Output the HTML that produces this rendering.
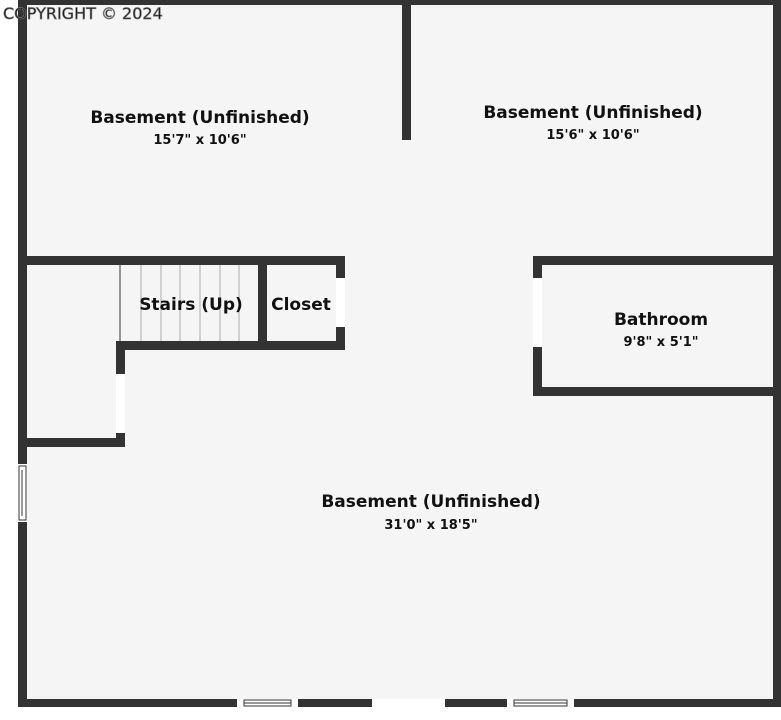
<!DOCTYPE html>
<html><head><meta charset="utf-8"><style>
html,body{margin:0;padding:0;background:#fff;}
svg{display:block;}
text{font-family:"DejaVu Sans","Liberation Sans",sans-serif;fill:#111;}
</style></head><body>
<svg width="781" height="720" viewBox="0 0 781 720" xmlns="http://www.w3.org/2000/svg">
<rect x="0" y="0" width="781" height="720" fill="#fff"/>
<rect x="18" y="0" width="763" height="707" fill="#f5f5f5"/>
<g fill="#333">
<rect x="18" y="0" width="763" height="5"/>
<rect x="18" y="0" width="9" height="707"/>
<rect x="773" y="0" width="8" height="707"/>
<rect x="18" y="699" width="763" height="8"/>
<rect x="402" y="0" width="9" height="140"/>
<rect x="18" y="256" width="327" height="9"/>
<rect x="258" y="256" width="9" height="94"/>
<rect x="336" y="256" width="9" height="94"/>
<rect x="116" y="341" width="229" height="9"/>
<rect x="116" y="341" width="9" height="106"/>
<rect x="18" y="438" width="107" height="9"/>
<rect x="533" y="256" width="248" height="9"/>
<rect x="533" y="256" width="9" height="140"/>
<rect x="533" y="387" width="248" height="9"/>
</g>
<g fill="#fff">
<rect x="336" y="278" width="9" height="49"/>
<rect x="533" y="278" width="9" height="69"/>
<rect x="116" y="374" width="9" height="59"/>
<rect x="18" y="464" width="9" height="58"/>
<rect x="372" y="699" width="73" height="8"/>
<rect x="237" y="699" width="61" height="8"/>
<rect x="507" y="699" width="67" height="8"/>
</g>
<g stroke="#333" stroke-width="1" fill="none">
<line x1="120" y1="265" x2="120" y2="341"/>
<g stroke="#aaa">
<line x1="141" y1="265" x2="141" y2="341"/>
<line x1="161" y1="265" x2="161" y2="341"/>
<line x1="180" y1="265" x2="180" y2="341"/>
<line x1="200" y1="265" x2="200" y2="341"/>
<line x1="220" y1="265" x2="220" y2="341"/>
<line x1="239" y1="265" x2="239" y2="341"/>
</g>
<rect x="19" y="466" width="7" height="54"/>
<line x1="22" y1="470" x2="22" y2="516"/>
<rect x="244" y="700" width="47" height="6"/>
<line x1="244" y1="703" x2="291" y2="703"/>
<rect x="514" y="700" width="53" height="6"/>
<line x1="514" y1="703" x2="567" y2="703"/>
</g>
<text x="3" y="19" font-size="16" font-family="Liberation Sans" fill="#e8e8e8" stroke="#777" stroke-width="0.7">COPYRIGHT © 2024</text>
<g text-anchor="middle">
<text x="200" y="123" font-size="17" font-weight="bold">Basement (Unfinished)</text>
<text x="200" y="144" font-size="13" font-weight="bold">15'7" x 10'6"</text>
<text x="593" y="118" font-size="17" font-weight="bold">Basement (Unfinished)</text>
<text x="593" y="139" font-size="13" font-weight="bold">15'6" x 10'6"</text>
<text x="191" y="310" font-size="17" font-weight="bold">Stairs (Up)</text>
<text x="301" y="310" font-size="17" font-weight="bold">Closet</text>
<text x="661" y="325" font-size="17" font-weight="bold">Bathroom</text>
<text x="661" y="346" font-size="13" font-weight="bold">9'8" x 5'1"</text>
<text x="431" y="507" font-size="17" font-weight="bold">Basement (Unfinished)</text>
<text x="431" y="529" font-size="13" font-weight="bold">31'0" x 18'5"</text>
</g>
</svg>
</body></html>
